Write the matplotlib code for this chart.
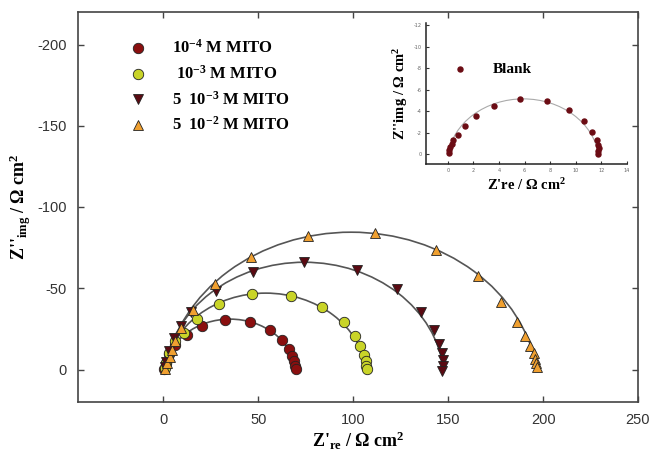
import numpy as np
import matplotlib
matplotlib.use("Agg")
import matplotlib.pyplot as plt
from matplotlib.patches import Arc

plt.rcParams["mathtext.fontset"] = "custom"
plt.rcParams["mathtext.rm"] = "Liberation Serif:bold"
plt.rcParams["mathtext.bf"] = "Liberation Serif:bold"
plt.rcParams["mathtext.it"] = "Liberation Serif:bold"
plt.rcParams["axes.unicode_minus"] = False

# Nyquist data (Z're, Z''img in ohm cm2)
red_x = [0.5, 1.2, 2.8, 6.0, 12.5, 20.4, 32.7, 45.4, 55.9, 62.6, 66.1, 67.9, 68.7, 69.1, 69.6]
red_y = [-0.5, -4.3, -9.3, -15.3, -21.2, -26.9, -30.6, -29.4, -24.5, -18.3, -12.7, -8.1, -5.1, -2.4, -0.4]

yel_x = [0.8, 1.5, 3.0, 6.0, 10.7, 17.8, 29.4, 46.8, 67.0, 83.7, 95.1, 100.7, 103.5, 105.7, 106.5, 106.5, 107.0]
yel_y = [-1.0, -4.3, -10.0, -17.3, -22.4, -31.1, -40.5, -46.7, -45.4, -38.3, -29.2, -20.4, -14.3, -9.2, -5.1, -2.0, -0.6]

mar_x = [0.9, 1.5, 3.0, 5.5, 9.0, 14.5, 27.6, 47.0, 74.0, 101.8, 123.2, 135.9, 142.6, 145.4, 147.0, 147.5, 147.5, 146.8]
mar_y = [-1.5, -4.9, -11.6, -19.1, -26.8, -35.5, -48.2, -60.1, -65.9, -61.2, -49.4, -35.3, -24.5, -15.9, -10.2, -6.1, -2.4, 0.8]

ora_x = [1.05, 1.9, 3.3, 4.6, 6.3, 9.4, 15.5, 27.4, 46.2, 76.1, 111.5, 143.5, 165.8, 177.7, 186.5, 190.4, 193.2, 195.0, 195.7, 196.2, 196.7]
ora_y = [-0.4, -4.1, -7.8, -11.8, -17.3, -25.6, -36.9, -52.9, -69.1, -82.2, -84.0, -73.8, -57.5, -41.8, -29.5, -20.8, -14.7, -10.2, -6.5, -3.7, -1.4]

blank_x = [0.08, 0.13, 0.2, 0.33, 0.42, 0.81, 1.34, 2.2, 3.62, 5.61, 7.76, 9.5, 10.65, 11.3, 11.64, 11.75, 11.78, 11.75, 11.7]
blank_y = [-0.13, -0.4, -0.7, -1.0, -1.3, -1.83, -2.63, -3.6, -4.53, -5.12, -4.96, -4.1, -3.07, -2.07, -1.37, -0.9, -0.6, -0.3, -0.05]

# fitted semicircles: centre x, centre y (depressed), radius
fit_xc = [35.1, 53.9, 74.2, 98.9]
fit_yc = [3.86, 6.5, 7.8, 14.5]
fit_r = [34.86, 53.5, 73.8, 99.0]
blank_fit = (5.9, 0.77, 5.92)

labels = [r"10$^{-4}$ M MITO", r" 10$^{-3}$ M MITO", r"5  10$^{-3}$ M MITO", r"5  10$^{-2}$ M MITO"]
colors = ["#8a0f0f", "#c9d428", "#5a0a12", "#f0a030"]
markers = ["o", "o", "v", "^"]


def draw_fit(a, xc, yc, r, color, lw):
    ang = np.degrees(np.arcsin(yc / r))
    a.add_patch(Arc((xc, yc), 2 * r, 2 * r, theta1=180 + ang, theta2=360 - ang,
                    color=color, lw=lw, zorder=2))


fig = plt.figure(figsize=(6.61, 4.59), dpi=100)
ax = fig.add_axes([78 / 661, 57 / 459, 560 / 661, 390 / 459])

series = [(red_x, red_y), (yel_x, yel_y), (mar_x, mar_y), (ora_x, ora_y)]
for i, (xs, ys) in enumerate(series):
    draw_fit(ax, fit_xc[i], fit_yc[i], fit_r[i], "#555555", 1.2)
    ax.plot(xs, ys, linestyle="none", marker=markers[i], ms=7.5, mfc=colors[i],
            mec="#222222", mew=0.6, zorder=3)

ax.set_xlim(-45, 250)
ax.set_ylim(20, -220)
ax.set_xticks([0, 50, 100, 150, 200, 250])
ax.set_yticks([0, -50, -100, -150, -200])
ax.tick_params(direction="in", top=True, right=True, length=4, width=1,
               colors="#444444", labelcolor="#333333", labelsize=10.5, pad=8)
for lab in ax.get_xticklabels() + ax.get_yticklabels():
    lab.set_family("Liberation Sans")
for s in ax.spines.values():
    s.set_color("#444444")
    s.set_linewidth(1.2)

ax.set_xlabel(r"Z'$_{re}$ / Ω cm$^{2}$", family="Liberation Serif", fontweight="bold",
              fontsize=13, labelpad=2)
ax.set_ylabel(r"Z''$_{img}$ / Ω cm$^{2}$", family="Liberation Serif", fontweight="bold",
              fontsize=13, labelpad=3)

# legend rows
for i in range(4):
    yy = 0.908 - i * 0.066
    ax.plot([0.107], [yy], transform=ax.transAxes, linestyle="none", marker=markers[i],
            ms=7.5, mfc=colors[i], mec="#222222", mew=0.6, clip_on=False)
    ax.text(0.168, yy, labels[i], transform=ax.transAxes, va="center", ha="left",
            family="Liberation Serif", fontweight="bold", fontsize=12)

# inset with the blank
ins = fig.add_axes([426 / 661, 295 / 459, 201 / 661, 141 / 459])
ins.patch.set_alpha(0)
draw_fit(ins, *blank_fit, "#aaaaaa", 0.8)
ins.plot(blank_x, blank_y, linestyle="none", marker="o", ms=3.6, color="#6b0c14", zorder=3)
ins.plot([0.94], [-7.9], linestyle="none", marker="o", ms=3.6, color="#6b0c14")
ins.text(3.5, -7.9, "Blank", va="center", ha="left", family="Liberation Serif",
         fontweight="bold", fontsize=11)
ins.set_xlim(-1.7, 14)
ins.set_ylim(0.9, -12.2)
ins.set_xticks(np.arange(0, 15, 2))
ins.set_yticks(np.arange(0, -13, -2))
ins.tick_params(direction="in", length=2.5, width=0.8, labelsize=3.5, colors="#333333",
                labelcolor="#666666", pad=3)
ins.spines["top"].set_visible(False)
ins.spines["right"].set_visible(False)
for s in ["left", "bottom"]:
    ins.spines[s].set_color("#222222")
    ins.spines[s].set_linewidth(1.1)
ins.set_xlabel(r"Z're / Ω cm$^{2}$", family="Liberation Serif", fontweight="bold",
               fontsize=10.5, labelpad=3)
ins.set_ylabel(r"Z''img / Ω cm$^{2}$", family="Liberation Serif", fontweight="bold",
               fontsize=10.5, labelpad=3)

fig.savefig("out.png", dpi=100)
